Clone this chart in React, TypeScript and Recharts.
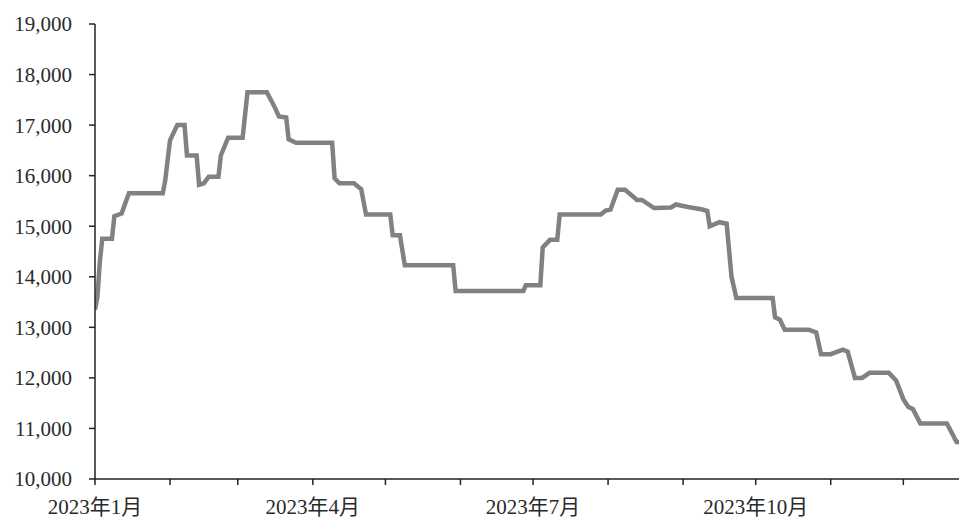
import React from 'react';
import { LineChart, Line, XAxis, YAxis } from 'recharts';

// day index from 2023-01-01
const days = [
  0, 1, 2, 3, 7, 8, 11, 14, 28, 29, 30, 31, 34, 37, 38, 42, 43, 45, 47, 51,
  52, 55, 61, 63, 71, 74, 76, 79, 80, 83, 98, 99, 101, 107, 110, 112, 122, 123, 126, 128,
  148, 149, 177, 178, 184, 185, 188, 191, 192, 209, 211, 213, 216, 219, 224, 226, 231, 238, 240, 245,
  251, 253, 254, 258, 261, 263, 265, 280, 281, 283, 285, 295, 298, 300, 304, 309, 311, 314, 317, 320,
  328, 331, 334, 336, 338, 341, 352, 356, 357,
];
const prices = [
  13350, 13600, 14300, 14750, 14750, 15200, 15250, 15650, 15650, 15900, 16300, 16700, 17000, 17000, 16400, 16400, 15820, 15850, 15980, 15980,
  16400, 16750, 16750, 17650, 17650, 17380, 17170, 17150, 16720, 16650, 16650, 15950, 15850, 15850, 15730, 15230, 15230, 14820, 14820, 14230,
  14230, 13720, 13720, 13830, 13830, 14580, 14730, 14730, 15230, 15230, 15310, 15330, 15720, 15720, 15520, 15520, 15360, 15370, 15430, 15380,
  15330, 15300, 15000, 15080, 15050, 14000, 13580, 13580, 13200, 13150, 12950, 12950, 12900, 12470, 12470, 12560, 12520, 12000, 12000, 12100,
  12100, 11950, 11580, 11430, 11380, 11100, 11100, 10730, 10730,
];

const monthTicks = [0, 31, 59, 90, 120, 151, 181, 212, 243, 273, 304, 334];
const monthLabels: Record<number, string> = {
  0: '2023年1月',
  90: '2023年4月',
  181: '2023年7月',
  273: '2023年10月',
};
const yTicks = [10000, 11000, 12000, 13000, 14000, 15000, 16000, 17000, 18000, 19000];

const data = days.map((d, i) => ({ day: d, price: prices[i] }));

const FONT = "'Liberation Serif', 'Noto Sans CJK SC', serif";
const TEXT = '#2a2a2a';

export default function App() {
  return (
    <div style={{ position: 'absolute', left: 0, top: 0, width: 959, height: 519, background: '#fff' }}>
      <LineChart
        width={959}
        height={519}
        data={data}
        margin={{ top: 24, right: 0, bottom: 0, left: 0 }}
      >
        <XAxis
          type="number"
          dataKey="day"
          domain={[0, 357]}
          ticks={monthTicks}
          interval={0}
          allowDataOverflow
          height={40}
          tickSize={6}
          tickMargin={14}
          tickFormatter={(v: number) => monthLabels[v] ?? ''}
          axisLine={{ stroke: '#222', strokeWidth: 1.5 }}
          tickLine={{ stroke: '#222', strokeWidth: 1.5 }}
          tick={{ fill: TEXT, fontSize: 21, fontFamily: FONT }}
        />
        <YAxis
          type="number"
          domain={[10000, 19000]}
          ticks={yTicks}
          interval={0}
          width={95}
          tickSize={6}
          tickMargin={17}
          tickFormatter={(v: number) => v.toLocaleString('en-US')}
          axisLine={{ stroke: '#222', strokeWidth: 1.5 }}
          tickLine={{ stroke: '#222', strokeWidth: 1.5 }}
          tick={{ fill: TEXT, fontSize: 21, fontFamily: FONT }}
        />
        <Line
          type="linear"
          dataKey="price"
          stroke="#7f8283"
          strokeWidth={4.5}
          dot={false}
          isAnimationActive={false}
        />
      </LineChart>
    </div>
  );
}
